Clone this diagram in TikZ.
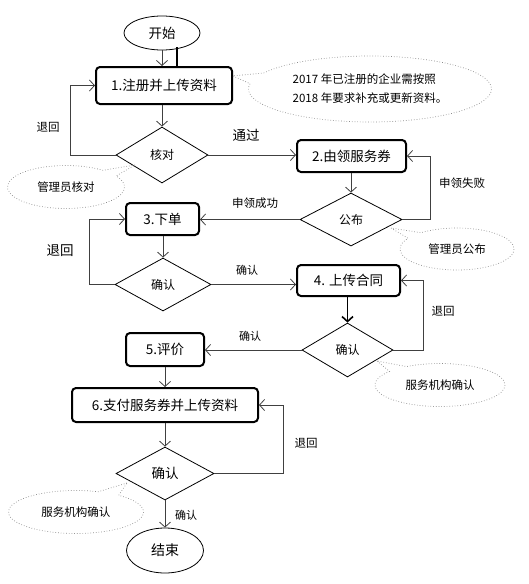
\documentclass[tikz,border=0pt]{standalone}
\usepackage{fontspec}
\setmainfont{Noto Sans CJK SC}
\usetikzlibrary{shapes.geometric,shapes.callouts,arrows.meta,calc}
\begin{document}
\begin{tikzpicture}[x=1pt,y=-1pt,
 box/.style={draw=black,line width=2pt,rounded corners=4pt,inner sep=0pt,font=\fontsize{13.5}{16}\selectfont},
 dia/.style={diamond,draw=black,line width=0.8pt,inner sep=0pt,font=\fontsize{12}{14}\selectfont},
 arr/.style={draw=black!75,line width=0.8pt,-{Straight Barb[length=5pt,width=11pt]}},
 thickarr/.style={draw=black,line width=1.6pt,-{Straight Barb[length=5pt,width=11pt]}},
 lbl/.style={font=\fontsize{11.5}{14}\selectfont,inner sep=0pt},
 note/.style={ellipse callout,draw=black!45,dotted,line width=0.7pt,inner sep=0pt,callout pointer arc=20,font=\fontsize{11.5}{14}\selectfont},
 term/.style={ellipse,draw=black,line width=0.8pt,inner sep=0pt,font=\fontsize{13.5}{16}\selectfont}]
\useasboundingbox (0,0) rectangle (528,584);
% nodes
\node[term,minimum width=76pt,minimum height=34pt] (start) at (162,33) {开始};
\node[box,minimum width=136pt,minimum height=37pt] (b1) at (164,85.5) {1.注册并上传资料};
\node[dia,minimum width=92pt,minimum height=56pt] (d1) at (162,155) {核对};
\node[box,minimum width=109pt,minimum height=32pt] (b2) at (351.5,156) {2.由领服务券};
\node[dia,minimum width=102pt,minimum height=53pt] (d2) at (351,219.5) {公布};
\node[box,minimum width=73pt,minimum height=32pt] (b3) at (162.5,219) {3.下单};
\node[dia,minimum width=96pt,minimum height=53pt] (d3) at (163,284.5) {确认};
\node[box,minimum width=103pt,minimum height=31pt] (b4) at (348.5,280.5) {4. 上传合同};
\node[dia,minimum width=91pt,minimum height=54pt] (d4) at (347.5,350) {确认};
\node[box,minimum width=78pt,minimum height=33pt] (b5) at (165,349.5) {5.评价};
\node[box,minimum width=186pt,minimum height=34pt] (b6) at (165,405) {6.支付服务券并上传资料};
\node[dia,minimum width=98pt,minimum height=53pt,font=\fontsize{13.5}{16}\selectfont] (d5) at (165,473.5) {确认};
\node[term,minimum width=77pt,minimum height=45pt,font=\fontsize{14}{16}\selectfont] (end) at (165,550.5) {结束};
% connectors
\draw[arr] (start.south) -- (start.south |- b1.north);
\coordinate (tick) at ($(start.center)+(15,14)$);
\draw[line width=1.5pt] (tick) -- (tick |- b1.north);
\draw[arr] (d1.north |- b1.south) -- (d1.north);
\draw[arr] (d1.east) -- (b2.west |- d1.east);
\draw[arr] (d1.west) -- ++(-45,0) |- (b1.west);
\draw[arr] (d2.north |- b2.south) -- (d2.north);
\draw[arr] (d2.east) -- ++(28,0) |- (b2.east);
\draw[arr] (d2.west) -- (b3.east |- d2.west);
\draw[arr] (d3.north |- b3.south) -- (d3.north);
\draw[arr] (d3.west) -- ++(-25,0) |- (b3.west);
\draw[arr] (d3.east) -- (b4.west |- d3.east);
\draw[thickarr] (d4.north |- b4.south) -- (d4.north);
\draw[arr] (d4.east) -- ++(30,0) |- (b4.east);
\draw[arr] (d4.west) -- (b5.east |- d4.west);
\draw[arr] (b5.south) -- (b6.north);
\draw[arr] (b6.south) -- (d5.north);
\draw[arr] (d5.east) -- ++(69,0) |- (b6.east);
\draw[arr] (d5.south) -- (end.north);
% labels
\node[lbl,font=\fontsize{13.5}{16}\selectfont] (l1) at (246,135) {通过};
\node[lbl] (l2) at (48,127) {退回};
\node[lbl] (l3) at (462,183) {申领失败};
\node[lbl] (l4) at (255,203) {申领成功};
\node[lbl,font=\fontsize{13.5}{16}\selectfont] (l5) at (60,251) {退回};
\node[lbl,font=\fontsize{11}{14}\selectfont] (l6) at (247,270) {确认};
\node[lbl] (l7) at (443,311) {退回};
\node[lbl,font=\fontsize{11}{14}\selectfont] (l8) at (250,336) {确认};
\node[lbl] (l9) at (306,443) {退回};
\node[lbl,font=\fontsize{11}{14}\selectfont] (l10) at (186,515) {确认};
% callouts
\node[note,minimum width=243pt,minimum height=66pt,callout absolute pointer={(233,76)},align=left,font=\fontsize{11.5}{19}\selectfont] (n1) at (370,89) {2017 年已注册的企业需按照\\2018 年要求补充或更新资料。};
\node[note,minimum width=117pt,minimum height=43pt,callout absolute pointer={(135,165)}] (n2) at (66,187) {管理员核对};
\node[note,minimum width=114pt,minimum height=42pt,callout absolute pointer={(391,228)}] (n3) at (457,249) {管理员公布};
\node[note,minimum width=130pt,minimum height=43pt,callout absolute pointer={(377,361)}] (n4) at (440,385) {服务机构确认};
\node[note,minimum width=135pt,minimum height=43pt,callout absolute pointer={(127,483)}] (n5) at (76,512) {服务机构确认};
\end{tikzpicture}
\end{document}
